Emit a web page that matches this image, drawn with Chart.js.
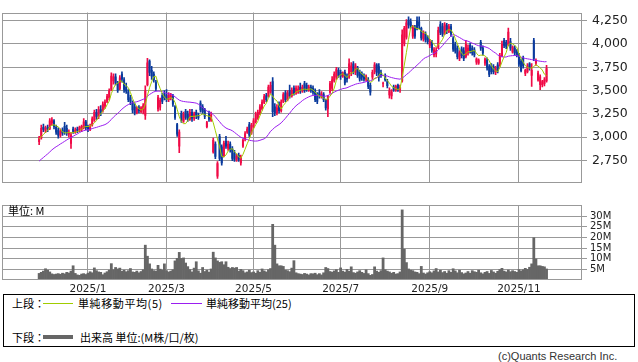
<!DOCTYPE html>
<html>
<head>
<meta charset="utf-8">
<script src="https://cdn.jsdelivr.net/npm/chart.js@4.4.1/dist/chart.umd.min.js"></script>
<style>
  body { margin: 0; width: 638px; height: 362px; background: #fff; position: relative; overflow: hidden; font-family: "Noto Sans CJK JP", sans-serif; color: #000; }
  canvas { position: absolute; left: 0; }
  #price { top: 0; }
  #vol { top: 196px; }
  .t { position: absolute; white-space: nowrap; font-size: 11px; line-height: 12px; }
  .ln { position: absolute; }
</style>
</head>
<body>
<canvas id="price" width="638" height="195"></canvas>
<canvas id="vol" width="638" height="98"></canvas>
<div class="t" style="left:8px;top:204px;">単位: M</div>

<div style="position:absolute;left:3px;top:294px;width:630px;height:51px;border:1px solid #000;"></div>
<div class="t" style="left:12px;top:297px;">上段：</div>
<div class="ln" style="left:43px;top:303px;width:30px;height:1px;background:#a0cc00;"></div>
<div class="t" style="left:78px;top:297px;letter-spacing:0.6px;">単純移動平均(5)</div>
<div class="ln" style="left:171px;top:303px;width:31px;height:1px;background:#9b1ef0;"></div>
<div class="t" style="left:206px;top:297px;">単純移動平均(25)</div>
<div class="t" style="left:12px;top:331px;">下段：</div>
<div class="ln" style="left:43px;top:335px;width:30px;height:4px;background:#666;"></div>
<div class="t" style="left:80px;top:331px;">出来高 単位:(M株/口/枚)</div>
<div class="t" style="left:498px;top:350px;font-family:'Liberation Sans',sans-serif;font-size:11px;color:#333;">(c)Quants Research Inc.</div>

<script>
// closes before the first visible day (only feed the moving averages)
var priorCloses = [2600, 2620, 2600, 2630, 2650, 2640, 2660, 2650, 2680, 2670, 2700, 2690,
  2680, 2710, 2730, 2720, 2750, 2770, 2760, 2800, 2960, 2980, 2970, 3000];

var opens = [2950,2990,3110,3070,3110,3090,3150,3180,3110,3080,3020,3080,3120,3100,3030,2930,3090,3050,3090,3070,
  3080,3100,3170,3110,3080,3130,3180,3270,3220,3300,3280,3330,3380,3420,3510,3600,3650,3580,3520,3680,
  3620,3540,3490,3430,3370,3330,3260,3320,3270,3290,3230,3560,3820,3720,3680,3590,3300,3320,3450,3470,
  3450,3400,3420,3440,3330,3140,2900,3260,3170,3280,3250,3190,3270,3200,3270,3240,3370,3330,3300,3110,
  3250,3180,2840,2930,2580,3010,2900,2800,2960,2880,2930,2880,2830,2760,2810,2720,2900,2980,3050,3140,
  3040,3110,3160,3200,3250,3300,3370,3450,3440,3480,3600,3330,3260,3350,3280,3380,3480,3400,3500,3440,
  3530,3470,3480,3540,3490,3580,3560,3500,3540,3530,3500,3460,3480,3430,3460,3400,3300,3480,3520,3600,
  3640,3720,3700,3650,3700,3640,3640,3700,3790,3690,3740,3700,3680,3650,3620,3620,3560,3640,3700,3780,
  3760,3700,3570,3650,3600,3450,3440,3540,3500,3560,3510,3600,4000,4070,4260,4240,4080,4180,4250,4240,
  4170,4050,4110,4070,3980,4020,3880,3890,3960,4210,4190,4110,4200,4130,4190,4060,4000,3960,3840,3950,
  3930,3860,3900,3990,3960,3940,3800,3790,4020,3960,3790,3830,3760,3770,3760,3690,3780,3770,3870,4040,
  4020,3990,4030,3910,3960,3920,3880,3820,3850,3680,3700,3790,3660,4040,3790,3610,3560,3560,3570,3600];
var highs = [3010,3130,3140,3120,3130,3200,3210,3190,3130,3100,3090,3100,3160,3130,3080,3050,3110,3100,3110,3120,
  3130,3200,3180,3130,3140,3220,3290,3300,3330,3340,3380,3400,3460,3520,3690,3680,3680,3600,3660,3700,
  3640,3580,3510,3450,3390,3360,3330,3340,3330,3360,3550,3845,3830,3760,3700,3610,3450,3420,3470,3500,
  3510,3480,3470,3460,3340,3150,3080,3280,3270,3300,3280,3300,3300,3270,3290,3260,3390,3350,3310,3170,
  3280,3270,2990,2950,2740,3030,2920,2960,3010,2960,2950,2900,2860,2820,2830,2810,2980,3060,3110,3160,
  3150,3200,3270,3290,3350,3400,3460,3470,3560,3590,3640,3360,3350,3380,3400,3480,3500,3500,3560,3530,
  3550,3550,3550,3580,3560,3600,3580,3560,3560,3550,3520,3480,3510,3490,3480,3410,3450,3600,3650,3700,
  3750,3740,3720,3700,3720,3680,3840,3800,3810,3790,3760,3720,3700,3680,3670,3640,3580,3720,3800,3790,
  3790,3720,3590,3680,3620,3530,3510,3560,3560,3570,3560,4150,4190,4260,4290,4270,4200,4200,4290,4290,
  4180,4140,4130,4090,4050,4040,3960,3960,4180,4240,4220,4230,4220,4210,4210,4080,4020,3980,3930,3970,
  3960,4040,3990,4010,3980,3960,3850,3840,4040,3980,3850,3850,3780,3790,3780,3760,3800,3900,4030,4060,
  4040,4170,4060,3980,3980,3940,3900,3840,3870,3730,3790,3800,3790,4060,3840,3710,3670,3610,3640,3770];
var lows = [2920,2980,3060,3050,3060,3080,3130,3090,3030,2990,3000,3020,3030,3020,3000,2880,3040,3040,3050,3060,
  3060,3090,3080,3060,3070,3120,3170,3190,3200,3230,3270,3310,3370,3400,3500,3570,3560,3480,3510,3590,
  3480,3470,3380,3350,3260,3240,3250,3260,3260,3250,3190,3550,3660,3620,3590,3500,3280,3290,3360,3400,
  3380,3380,3400,3330,3190,3010,2835,3160,3160,3190,3170,3180,3170,3180,3200,3190,3270,3250,3200,3100,
  3170,3170,2830,2770,2560,2750,2700,2790,2880,2860,2840,2750,2740,2740,2740,2700,2890,2960,3040,3000,
  3030,3100,3150,3190,3240,3290,3360,3380,3430,3470,3220,3230,3240,3260,3270,3370,3380,3390,3420,3430,
  3450,3460,3470,3470,3480,3480,3490,3490,3480,3460,3380,3360,3420,3420,3380,3290,3220,3470,3500,3590,
  3620,3640,3620,3640,3560,3590,3630,3660,3680,3670,3640,3600,3610,3600,3600,3520,3450,3620,3680,3660,
  3600,3640,3540,3600,3530,3420,3410,3490,3490,3490,3480,3590,3980,4050,4170,4170,4060,4060,4150,4160,
  4040,4030,4020,4000,3960,3910,3860,3860,3950,4100,4080,4100,4110,4120,4080,3920,3900,3840,3820,3850,
  3820,3850,3880,3900,3880,3860,3780,3780,3930,3880,3770,3720,3650,3680,3680,3670,3690,3760,3860,3960,
  3950,3980,3930,3900,3880,3860,3760,3700,3740,3660,3690,3720,3545,3820,3770,3600,3510,3540,3550,3590];
var closes = [2990,3100,3080,3100,3090,3180,3190,3110,3050,3020,3070,3040,3060,3040,3060,3030,3060,3080,3070,3110,
  3120,3170,3100,3080,3120,3200,3270,3220,3300,3260,3360,3380,3440,3500,3660,3650,3580,3500,3640,3620,
  3510,3490,3400,3380,3290,3260,3310,3280,3320,3340,3500,3800,3690,3650,3610,3520,3430,3400,3380,3420,
  3400,3460,3450,3350,3210,3030,3060,3180,3250,3210,3190,3270,3200,3250,3230,3210,3290,3270,3220,3160,
  3190,3240,2970,2790,2720,2770,2720,2940,2900,2930,2860,2770,2760,2800,2760,2790,2970,3040,3090,3020,
  3130,3180,3250,3270,3330,3380,3440,3400,3540,3560,3270,3260,3320,3280,3380,3460,3400,3480,3440,3510,
  3470,3530,3520,3490,3540,3500,3510,3540,3500,3480,3400,3380,3440,3470,3400,3310,3440,3580,3620,3680,
  3730,3660,3650,3690,3580,3620,3790,3770,3700,3770,3660,3620,3640,3620,3660,3540,3480,3700,3780,3690,
  3640,3660,3580,3610,3550,3500,3490,3510,3550,3510,3540,4100,4170,4230,4200,4190,4180,4080,4170,4190,
  4060,4120,4040,4020,4030,3930,3940,3930,4150,4120,4100,4210,4140,4190,4100,3940,3920,3860,3910,3870,
  3840,4000,3960,3920,3900,3880,3840,3830,3950,3900,3840,3740,3670,3700,3700,3740,3710,3880,4000,3980,
  3970,4130,3950,3970,3900,3870,3780,3710,3760,3720,3770,3740,3720,3840,3820,3690,3650,3600,3620,3740];
// volume, millions of shares
var volumes = [3.1,3.6,4.2,5.3,4.6,3.8,2.9,2.6,2.8,3.0, 2.7,3.2,2.9,3.6,3.3,4.2,6.7,3.1,2.4,2.2,
  2.8,3.0,2.6,3.2,3.9,3.4,5.7,4.4,3.8,3.6, 2.5,3.3,3.9,4.6,7.7,4.8,5.9,5.2,5.6,4.1,
  4.6,3.9,4.4,5.4,3.8,3.6,4.2,3.4,4.0,4.8, 16.4,11.2,7.6,5.2,4.4,4.2,6.9,5.1,4.6,7.6,
  4.4,3.8,4.2,4.8,9.0,10.2,13.0,10.2,10.4,8.0, 6.3,4.9,3.8,5.6,8.6,4.3,3.2,5.9,4.0,4.6,
  3.7,5.2,13.1,10.4,9.0,8.3,8.6,7.2,8.6,6.0, 5.4,5.9,5.6,5.9,4.2,5.0,4.4,3.4,3.8,4.6,
  3.5,3.8,3.2,4.4,3.6,5.2,4.3,3.8,4.8,5.4, 26.2,16.4,7.6,6.7,6.7,6.4,4.6,4.4,3.9,5.6,
  9.1,3.4,3.0,2.8,2.6,3.1,2.8,2.4,3.0,2.9, 3.2,2.5,3.0,2.4,3.4,5.9,5.4,4.0,3.7,4.3,
  4.9,3.6,5.7,4.2,3.7,5.0,4.1,6.2,3.5,3.2, 3.8,4.4,3.6,3.1,4.8,3.0,2.2,2.6,6.2,4.2,
  3.6,4.4,10.4,4.8,4.2,3.8,3.2,3.6,2.8,3.0, 3.8,33.0,14.5,8.2,5.2,4.6,4.4,3.8,3.6,3.0,
  6.4,3.3,2.8,3.4,3.9,3.4,4.3,5.4,3.8,4.6, 3.5,4.0,3.2,4.4,3.6,5.3,4.3,3.4,4.6,3.5,
  2.9,3.3,4.0,3.2,4.4,3.9,3.6,4.6,3.4,2.9, 3.6,4.0,3.1,4.5,3.8,3.2,4.1,4.9,5.5,4.2,
  3.8,4.7,3.9,4.4,4.0,3.6,4.9,4.3,4.8,5.5, 5.0,6.0,7.6,19.9,9.9,6.7,6.7,6.4,6.2,5.2];

// first trading day of each labelled month, as day index
var monthTicks = [23, 60, 101, 142, 184, 226];
var monthLabels = ['2025/1', '2025/3', '2025/5', '2025/7', '2025/9', '2025/11'];
var priceTicks = [2750, 3000, 3250, 3500, 3750, 4000, 4250];
var volumeTicks = [5, 10, 15, 20, 25, 30];

var upColor = '#f00a46', downColor = '#0a3a9c', gridColor = '#999';
var xMin = -17.5, xMax = 255.7;

function movingAverage(n) {
  var all = priorCloses.concat(closes);
  var off = priorCloses.length;
  return closes.map(function (c, i) {
    var s = 0;
    for (var k = off + i - n + 1; k <= off + i; k++) s += all[k];
    return s / n;
  });
}

function candleColor(ctx) {
  var i = ctx.dataIndex;
  return closes[i] >= opens[i] ? upColor : downColor;
}

var frame = {
  id: 'frame',
  afterDraw: function (chart) {
    var a = chart.chartArea, c = chart.ctx;
    c.save();
    c.strokeStyle = gridColor;
    c.lineWidth = 1;
    c.strokeRect(Math.round(a.left) + 0.5, Math.round(a.top) + 0.5, Math.round(a.right - a.left) - 1, Math.round(a.bottom - a.top) - 1);
    c.restore();
  }
};

function monthAxis(showLabels) {
  return {
    type: 'linear', min: xMin, max: xMax, offset: false,
    grid: { offset: false, color: gridColor, drawTicks: false },
    border: { display: false },
    ticks: {
      display: showLabels, autoSkip: false, maxRotation: 0, padding: 3,
      color: '#222', font: { family: 'DejaVu Sans', size: 10.5 },
      callback: function (v) { return monthLabels[monthTicks.indexOf(v)]; }
    },
    afterBuildTicks: function (s) { s.ticks = monthTicks.map(function (v) { return { value: v }; }); },
    afterFit: function (s) { s.height = showLabels ? 14 : 0; }
  };
}

var ma5 = movingAverage(5), ma25 = movingAverage(25);

new Chart(document.getElementById('price'), {
  type: 'bar',
  data: {
    datasets: [
      { type: 'line', data: ma5.map(function (v, i) { return { x: i, y: v }; }), borderColor: '#a0cc00', borderWidth: 1, pointRadius: 0, order: 0 },
      { type: 'line', data: ma25.map(function (v, i) { return { x: i, y: v }; }), borderColor: '#9b1ef0', borderWidth: 1, pointRadius: 0, order: 0 },
      { data: lows.map(function (l, i) { return { x: i, y: [l, highs[i]] }; }), backgroundColor: candleColor, barThickness: 1, grouped: false, order: 2 },
      { data: opens.map(function (o, i) { return { x: i, y: [Math.min(o, closes[i]), Math.max(o, closes[i])] }; }),
        backgroundColor: candleColor, barPercentage: 0.95, categoryPercentage: 1, grouped: false, order: 1 }
    ]
  },
  options: {
    responsive: false, animation: false,
    plugins: { legend: { display: false }, tooltip: { enabled: false } },
    layout: { padding: { left: 2, top: 1, right: 0, bottom: 5 } },
    scales: {
      x: monthAxis(false),
      y: {
        position: 'right', min: 2515, max: 4337,
        grid: { color: gridColor, tickLength: 5 },
        border: { display: false },
        ticks: { color: '#222', padding: 5, autoSkip: false, font: { family: 'DejaVu Sans', size: 12.5 },
          callback: function (v) { return v.toLocaleString('en-US'); } },
        afterBuildTicks: function (s) { s.ticks = priceTicks.map(function (v) { return { value: v }; }); },
        afterFit: function (s) { s.width = 56; }
      }
    }
  },
  plugins: [frame]
});

new Chart(document.getElementById('vol'), {
  type: 'bar',
  data: {
    datasets: [{ data: volumes.map(function (v, i) { return { x: i, y: v }; }), backgroundColor: '#666', barPercentage: 1, categoryPercentage: 1 }]
  },
  options: {
    responsive: false, animation: false,
    plugins: { legend: { display: false }, tooltip: { enabled: false } },
    layout: { padding: { left: 2, top: 5, right: 0, bottom: 0 } },
    scales: {
      x: monthAxis(true),
      y: {
        position: 'right', min: 0, max: 35.3,
        grid: { color: gridColor, tickLength: 5 },
        border: { display: false },
        ticks: { color: '#222', padding: 3, autoSkip: false, font: { family: 'DejaVu Sans', size: 10 },
          callback: function (v) { return v + 'M'; } },
        afterBuildTicks: function (s) { s.ticks = volumeTicks.map(function (v) { return { value: v }; }); },
        afterFit: function (s) { s.width = 56; }
      }
    }
  },
  plugins: [frame]
});
</script>
</body>
</html>
